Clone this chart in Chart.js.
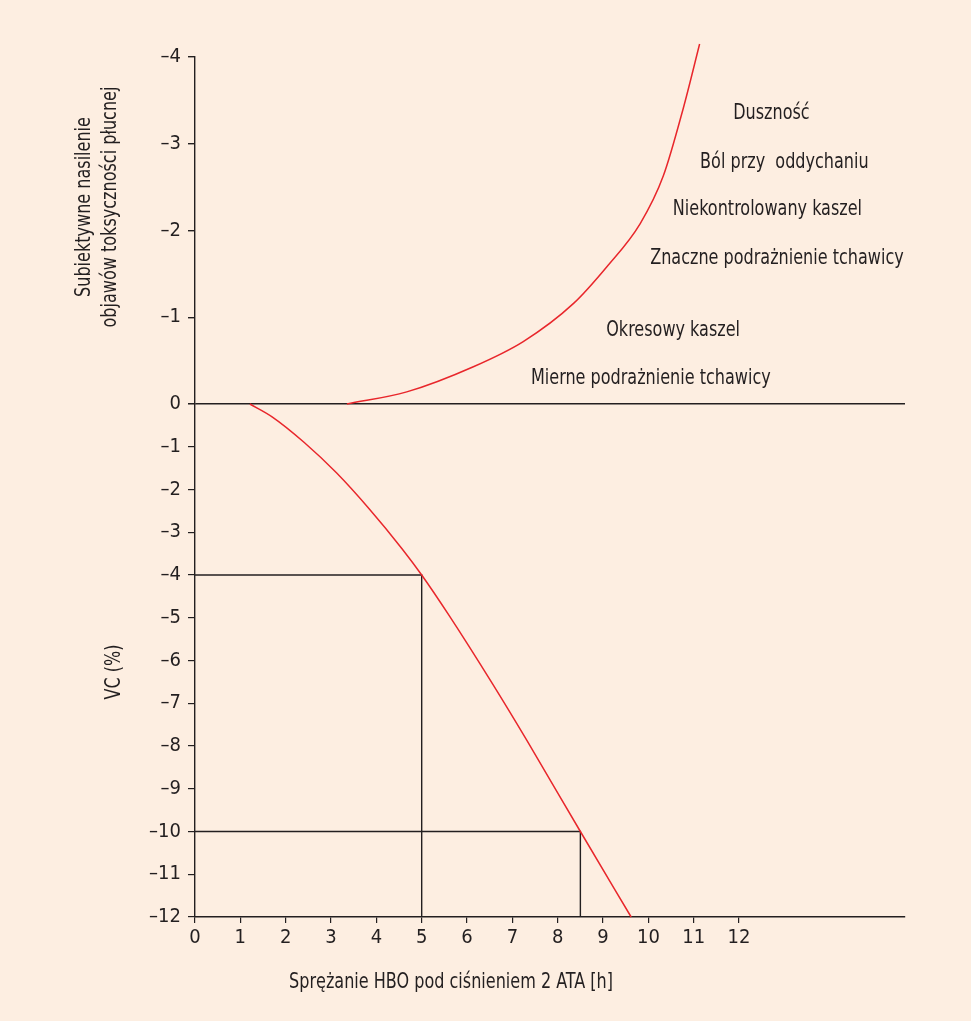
<!DOCTYPE html>
<html><head><meta charset="utf-8">
<script src="https://cdn.jsdelivr.net/npm/chart.js@4.4.1/dist/chart.umd.min.js"></script>
<style>html,body{margin:0;padding:0;background:#fdeee1;}#wrap{width:971px;height:1021px;}</style>
</head><body><div id="wrap"><canvas id="c" width="971" height="1021"></canvas></div>
<script>
// ---- data ----
const xTickValues = [0,1,2,3,4,5,6,7,8,9,10,11,12];
const upperTickValues = [-4,-3,-2,-1,0];
const lowerTickValues = [0,-1,-2,-3,-4,-5,-6,-7,-8,-9,-10,-11,-12];
const symptomCurveX = [3.35, 4.67, 6.14, 7.24, 8.35, 9.08, 9.82, 10.33, 10.77, 11.13];
const symptomCurveY = [0, -0.14, -0.43, -0.72, -1.16, -1.58, -2.08, -2.63, -3.41, -4.15];
const vcCurveX = [1.21, 1.70, 2.41, 3.12, 3.84, 4.57, 5.0, 5.60, 6.57, 7.32, 8.5, 9.62];
const vcCurveY = [0, -0.30, -0.90, -1.61, -2.45, -3.39, -4.0, -4.94, -6.56, -7.87, -10.0, -12.0];
const refAX = [0, 5, 5];   const refAY = [-4, -4, -12];
const refBX = [0, 8.5, 8.5]; const refBY = [-10, -10, -12];
const symptomLabels = ['Duszność','Ból przy  oddychaniu','Niekontrolowany kaszel','Znaczne podrażnienie tchawicy','Okresowy kaszel','Mierne podrażnienie tchawicy'];
const xTitle = 'Sprężanie HBO pod ciśnieniem 2 ATA [h]';
const upperTitle = ['Subiektywne nasilenie','objawów toksyczności płucnej'];
const lowerTitle = 'VC (%)';
const xMax = 15.66;

// ---- layout (positions, not data) ----
const symptomPos = [[11.87,-3.35],[11.14,-2.78],[10.54,-2.24],[10.04,-1.68],[9.07,-0.85],[7.41,-0.29]];
const INK = '#231f20', RED = '#e8262b';
const FONT = "'Liberation Sans Narrow','DejaVu Sans Condensed',sans-serif";
const SQ = 0.87; // horizontal condensing of free text

const pts = (xs, ys) => xs.map((x,i)=>({x, y: ys[i]}));
const dash = v => v < 0 ? '\u2013' + Math.abs(v) : String(v);

function drawText(ctx, t, x, y, align, rot) {
  ctx.save();
  ctx.translate(x, y);
  if (rot) ctx.rotate(-Math.PI/2);
  ctx.scale(SQ, 1);
  ctx.textAlign = align;
  ctx.fillText(t, 0, 0);
  ctx.restore();
}

const textPlugin = {
  id: 'texts',
  afterDraw(chart) {
    const ctx = chart.ctx, sx = chart.scales.x, su = chart.scales.yU;
    ctx.save();
    ctx.fillStyle = INK;
    ctx.font = '20.5px ' + FONT;
    ctx.textBaseline = 'middle';
    symptomLabels.forEach((t,i)=>{
      drawText(ctx, t, sx.getPixelForValue(symptomPos[i][0]), su.getPixelForValue(symptomPos[i][1]), 'left', false);
    });
    drawText(ctx, xTitle, 451, 983, 'center', false);
    drawText(ctx, upperTitle[0], 85, 207, 'center', true);
    drawText(ctx, upperTitle[1], 111, 207, 'center', true);
    drawText(ctx, lowerTitle, 115, 672, 'center', true);
    ctx.restore();
  }
};

const lineDs = (data, color, axis, w) => ({
  data, borderColor: color, borderWidth: w, pointRadius: 0, fill: false,
  yAxisID: axis, clip: false, tension: 0
});
const curveDs = (data, axis) => Object.assign(lineDs(data, RED, axis, 1.5), { cubicInterpolationMode: 'monotone' });

const yCommon = {
  type: 'linear', position: 'left', stack: 'v',
  border: { display: true, color: INK, width: 1.4 },
  ticks: { color: INK, font: { family: FONT, size: 20 }, padding: 7, autoSkip: false },
  afterFit: s => { s.width = 195; }
};

new Chart(document.getElementById('c'), {
  type: 'line',
  data: {
    datasets: [
      curveDs(pts(symptomCurveX, symptomCurveY), 'yU'),
      curveDs(pts(vcCurveX, vcCurveY), 'yL'),
      lineDs(pts(refAX, refAY), INK, 'yL', 1.4),
      lineDs(pts(refBX, refBY), INK, 'yL', 1.4)
    ]
  },
  options: {
    responsive: false, animation: false, devicePixelRatio: 1,
    layout: { padding: { top: 57, right: 66, left: 0, bottom: 0 } },
    plugins: { legend: { display: false }, tooltip: { enabled: false } },
    scales: {
      x: {
        type: 'linear', min: 0, max: xMax,
        border: { display: true, color: INK, width: 1.4 },
        grid: { drawOnChartArea: false, tickColor: INK, tickLength: 6, lineWidth: 1.2 },
        ticks: { color: INK, font: { family: FONT, size: 20 }, padding: 3, maxRotation: 0 },
        afterBuildTicks: s => { s.ticks = xTickValues.map(v => ({ value: v })); },
        afterFit: s => { s.height = 104; }
      },
      yL: Object.assign({}, yCommon, {
        min: -12, max: 0, stackWeight: 513,
        grid: { drawOnChartArea: false, tickColor: INK, tickLength: 7, lineWidth: 1.2 },
        afterBuildTicks: s => { s.ticks = lowerTickValues.map(v => ({ value: v })); },
        ticks: Object.assign({}, yCommon.ticks, { callback: v => v === 0 ? '' : dash(v) })
      }),
      yU: Object.assign({}, yCommon, {
        min: -4, max: 0, reverse: true, stackWeight: 347,
        grid: { drawOnChartArea: true, color: c => (c.tick && c.tick.value === 0) ? INK : 'rgba(0,0,0,0)', tickColor: INK, tickLength: 7, lineWidth: 1.4 },
        afterBuildTicks: s => { s.ticks = upperTickValues.map(v => ({ value: v })); },
        ticks: Object.assign({}, yCommon.ticks, { callback: v => dash(v) })
      })
    }
  },
  plugins: [textPlugin]
});
</script></body></html>
